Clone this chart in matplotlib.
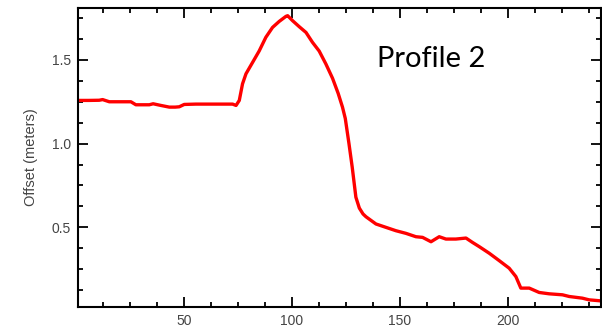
import matplotlib
matplotlib.use("Agg")
import matplotlib.pyplot as plt
from matplotlib.ticker import MultipleLocator, FormatStrFormatter

# distance along profile vs. offset
distance = [1, 6, 10.8, 12.4, 15.5, 20, 25.5, 27.8, 31, 34, 35.8, 39.4, 43.3, 46,
            47.9, 50.2, 55.6, 60, 66, 72.6, 74.2, 75.7, 77.2, 78.8, 81.9, 84.9,
            88, 91.1, 94.2, 97.3, 98.1, 100.4, 103.5, 106.6, 109.6, 112.7, 115.8,
            118.9, 121.5, 123.5, 124.8, 126.5, 128, 129.7, 131.3, 133, 134.4,
            139, 143.6, 148.2, 152.9, 157.5, 160.6, 164.5, 168.3, 171.4, 176,
            180.7, 183.7, 186.8, 191.5, 196.1, 200.7, 203.8, 206.1, 210, 214.6,
            219.2, 225.4, 228.5, 234.6, 237.7, 243]
offset = [1.258, 1.258, 1.259, 1.263, 1.250, 1.250, 1.250, 1.232, 1.232, 1.232,
          1.238, 1.228, 1.218, 1.218, 1.220, 1.234, 1.236, 1.236, 1.236, 1.236,
          1.228, 1.258, 1.357, 1.417, 1.486, 1.553, 1.635, 1.694, 1.730, 1.760,
          1.764, 1.734, 1.698, 1.664, 1.605, 1.553, 1.476, 1.390, 1.300, 1.218,
          1.150, 1.000, 0.860, 0.680, 0.615, 0.580, 0.563, 0.520, 0.500, 0.480,
          0.464, 0.444, 0.440, 0.414, 0.444, 0.430, 0.430, 0.436, 0.410, 0.385,
          0.345, 0.301, 0.256, 0.206, 0.137, 0.137, 0.111, 0.103, 0.097, 0.087,
          0.077, 0.067, 0.061]

fig = plt.figure(figsize=(6.02, 3.26), dpi=100)
ax = fig.add_axes([78 / 602, (326 - 306.7) / 326, (600.5 - 78) / 602, (306.7 - 8) / 326])

ax.plot(distance, offset, color="#ff0000", linewidth=2.4)

ax.set_xlim(1, 243)
ax.set_ylim(0.026, 1.81)
ax.xaxis.set_major_locator(MultipleLocator(50))
ax.xaxis.set_minor_locator(MultipleLocator(12.5))
ax.yaxis.set_major_locator(MultipleLocator(0.5))
ax.yaxis.set_minor_locator(MultipleLocator(0.125))
ax.yaxis.set_major_formatter(FormatStrFormatter("%.1f"))

ax.tick_params(which="both", direction="in", top=True, right=True, width=1.3,
               labelsize=10, labelcolor="#444444", pad=5)
ax.tick_params(which="major", length=7.5)
ax.tick_params(which="minor", length=3.6)
for side in ax.spines.values():
    side.set_linewidth(1.5)
for lbl in ax.get_xticklabels() + ax.get_yticklabels():
    lbl.set_family("Liberation Sans")

ax.set_ylabel("Offset (meters)", fontsize=10.5, color="#444444",
              family="Liberation Sans", labelpad=10)

ax.text(0.572, 0.8035, "Profile 2", transform=ax.transAxes, fontsize=21,
        family="Lato", ha="left", va="baseline", color="black")

fig.savefig("out.png", dpi=100, facecolor="white")
